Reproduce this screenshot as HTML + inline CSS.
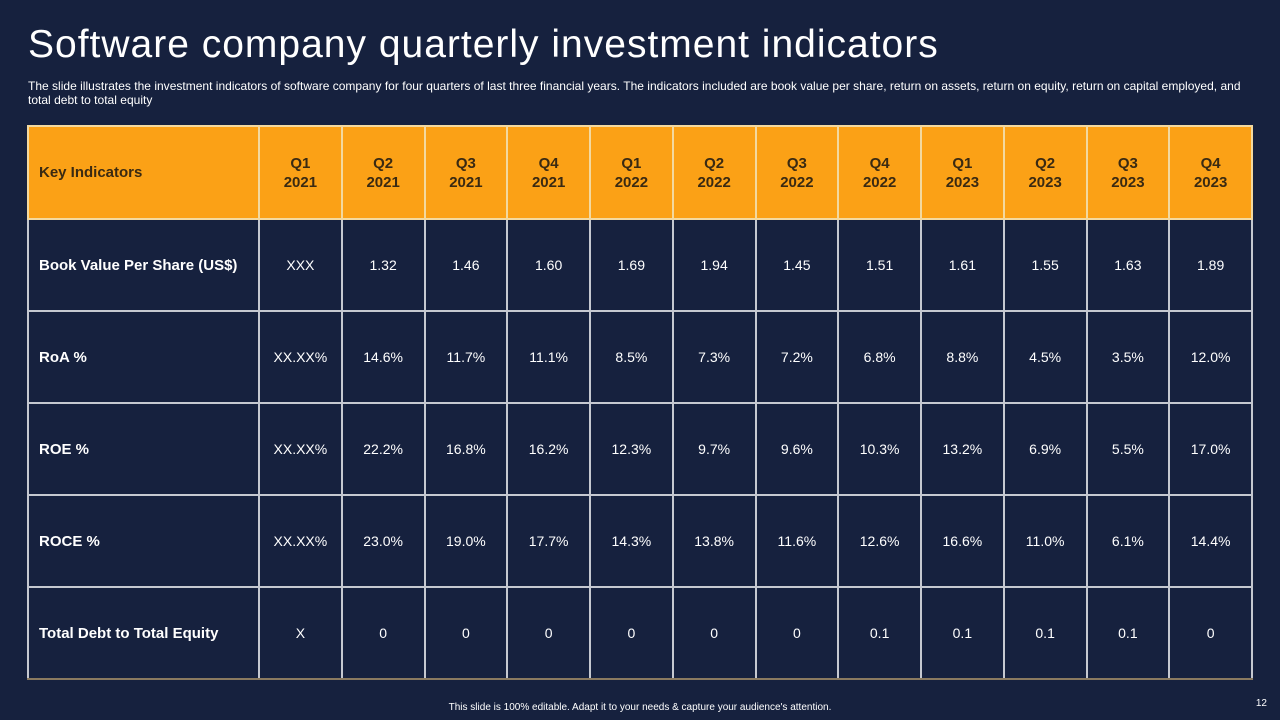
<!DOCTYPE html>
<html><head><meta charset="utf-8"><style>
body{margin:0;width:1280px;height:720px;background:#16213e;overflow:hidden;font-family:"Liberation Sans",sans-serif;position:relative}
#title{position:absolute;left:28px;top:23px;font-size:39px;color:#fff;letter-spacing:1px}
#sub{position:absolute;left:28px;top:79px;width:1245px;font-size:12px;line-height:14px;color:#fff;letter-spacing:0.01px;white-space:nowrap}
table{position:absolute;left:27px;top:125px;width:1226px;height:553px;border-collapse:collapse;table-layout:fixed}
td,th{border:2px solid #c5c8d0;text-align:center;color:#fff;font-size:14px;font-weight:normal;padding:0}
th{background:#fba116;color:#3a2a12;font-weight:bold;font-size:15px;line-height:19px;border-color:#f3d9a0}
th.k{text-align:left;padding-left:10px}
td.k{text-align:left;padding-left:10px;font-weight:bold;font-size:15px}
tr:last-child td{border-bottom:2px solid #8a7a60}
#foot{position:absolute;left:0;width:1280px;text-align:center;top:702px;font-size:10px;color:#fff}
#pg{position:absolute;right:13px;top:698px;font-size:10px;color:#fff}
</style></head><body>
<div id="title">Software company quarterly investment indicators</div>
<div id="sub">The slide illustrates the investment indicators of software company for four quarters of last three financial years. The indicators included are book value per share, return on assets, return on equity, return on capital employed, and<br>total debt to total equity</div>
<table id="tbl"><colgroup><col style="width:231px"></colgroup></table>
<div id="foot">This slide is 100% editable. Adapt it to your needs &amp; capture your audience's attention.</div>
<div id="pg">12</div>
<script>
const quarters=["Q1","Q2","Q3","Q4","Q1","Q2","Q3","Q4","Q1","Q2","Q3","Q4"];
const years=["2021","2021","2021","2021","2022","2022","2022","2022","2023","2023","2023","2023"];
const indicators=["Book Value Per Share (US$)","RoA %","ROE %","ROCE %","Total Debt to Total Equity"];
const bookValue=["XXX","1.32","1.46","1.60","1.69","1.94","1.45","1.51","1.61","1.55","1.63","1.89"];
const roa=["XX.XX%","14.6%","11.7%","11.1%","8.5%","7.3%","7.2%","6.8%","8.8%","4.5%","3.5%","12.0%"];
const roe=["XX.XX%","22.2%","16.8%","16.2%","12.3%","9.7%","9.6%","10.3%","13.2%","6.9%","5.5%","17.0%"];
const roce=["XX.XX%","23.0%","19.0%","17.7%","14.3%","13.8%","11.6%","12.6%","16.6%","11.0%","6.1%","14.4%"];
const debtEquity=["X","0","0","0","0","0","0","0.1","0.1","0.1","0.1","0"];
const rows=[bookValue,roa,roe,roce,debtEquity];
const t=document.getElementById('tbl');
const hr=document.createElement('tr');hr.style.height='93px';


const h0=document.createElement('th');h0.className='k';h0.textContent='Key Indicators';


hr.appendChild(h0);
quarters.forEach((q,i)=>{const th=document.createElement('th');th.innerHTML=q+'<br>'+years[i];


hr.appendChild(th);});
t.appendChild(hr);
rows.forEach((r,ri)=>{const tr=document.createElement('tr');tr.style.height='92px';


const k=document.createElement('td');k.className='k';k.textContent=indicators[ri];


tr.appendChild(k);
r.forEach(v=>{const td=document.createElement('td');td.textContent=v;


tr.appendChild(td);});
t.appendChild(tr);});
</script>
</body></html>
